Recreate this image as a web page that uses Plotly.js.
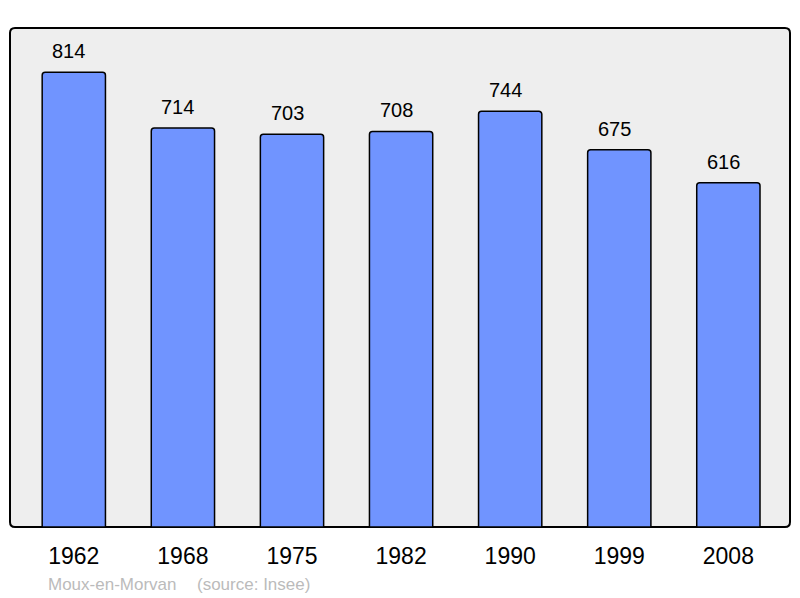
<!DOCTYPE html>
<html>
<head>
<meta charset="utf-8">
<script src="https://cdn.plot.ly/plotly-3.0.1.min.js"></script>
<style>html,body{margin:0;padding:0;background:#fff;}#chart{width:800px;height:598px;}</style>
</head>
<body>
<div id="chart"></div>
<script>
var years = ["1962", "1968", "1975", "1982", "1990", "1999", "2008"];
var population = [814, 714, 703, 708, 744, 675, 616];
var footerPlace = "Moux-en-Morvan";
var footerSource = "(source: Insee)";

var W = 800, H = 598;
var mL = 10, mR = 10, mT = 28, mB = 71;
var pw = W - mL - mR, ph = H - mT - mB;
var rx = 5 / pw, ry = 5 / ph;

function roundedRect(x0, y0, x1, y1) {
  return 'M ' + (x0 + rx) + ' ' + y0 +
    ' L ' + (x1 - rx) + ' ' + y0 +
    ' Q ' + x1 + ' ' + y0 + ' ' + x1 + ' ' + (y0 + ry) +
    ' L ' + x1 + ' ' + (y1 - ry) +
    ' Q ' + x1 + ' ' + y1 + ' ' + (x1 - rx) + ' ' + y1 +
    ' L ' + (x0 + rx) + ' ' + y1 +
    ' Q ' + x0 + ' ' + y1 + ' ' + x0 + ' ' + (y1 - ry) +
    ' L ' + x0 + ' ' + (y0 + ry) +
    ' Q ' + x0 + ' ' + y0 + ' ' + (x0 + rx) + ' ' + y0 + ' Z';
}

var trace = {
  type: 'bar',
  x: years,
  y: population,
  width: 0.58,
  marker: {
    color: '#7094ff',
    line: {color: '#000000', width: 1.5},
    cornerradius: 3
  },
  hoverinfo: 'none'
};

var annotations = years.map(function (yr, i) {
  return {
    x: i, y: population[i], xref: 'x', yref: 'y',
    text: String(population[i]),
    showarrow: false, yanchor: 'bottom', yshift: 8, xshift: -5,
    font: {family: 'Liberation Sans, Arial, sans-serif', size: 20, color: '#000000'}
  };
});
annotations.push({
  xref: 'paper', yref: 'paper', x: (46 - mL) / pw, y: -(584 - (H - mB)) / ph,
  xanchor: 'left', yanchor: 'middle', showarrow: false, text: footerPlace,
  font: {family: 'Liberation Sans, Arial, sans-serif', size: 17, color: '#bbbbbb'}
});
annotations.push({
  xref: 'paper', yref: 'paper', x: (195 - mL) / pw, y: -(584 - (H - mB)) / ph,
  xanchor: 'left', yanchor: 'middle', showarrow: false, text: footerSource,
  font: {family: 'Liberation Sans, Arial, sans-serif', size: 17, color: '#bbbbbb'}
});

var layout = {
  width: W, height: H,
  margin: {l: mL, r: mR, t: mT, b: mB, pad: 0},
  paper_bgcolor: '#ffffff',
  plot_bgcolor: 'rgba(0,0,0,0)',
  showlegend: false,
  xaxis: {
    type: 'category',
    range: [-0.585, 6.565],
    showgrid: false, zeroline: false, showline: false,
    ticks: '', ticklabelstandoff: 13,
    tickfont: {family: 'Liberation Sans, Arial, sans-serif', size: 23, color: '#000000'},
    fixedrange: true
  },
  yaxis: {
    range: [0, 893],
    showgrid: false, zeroline: false, showline: false,
    showticklabels: false, ticks: '',
    fixedrange: true
  },
  shapes: [{
    type: 'path', xref: 'paper', yref: 'paper', layer: 'below',
    path: roundedRect(0, 0, 1, 1),
    fillcolor: '#eeeeee',
    line: {color: '#000000', width: 2}
  }],
  annotations: annotations
};

Plotly.newPlot('chart', [trace], layout, {displayModeBar: false, staticPlot: true});
</script>
</body>
</html>
